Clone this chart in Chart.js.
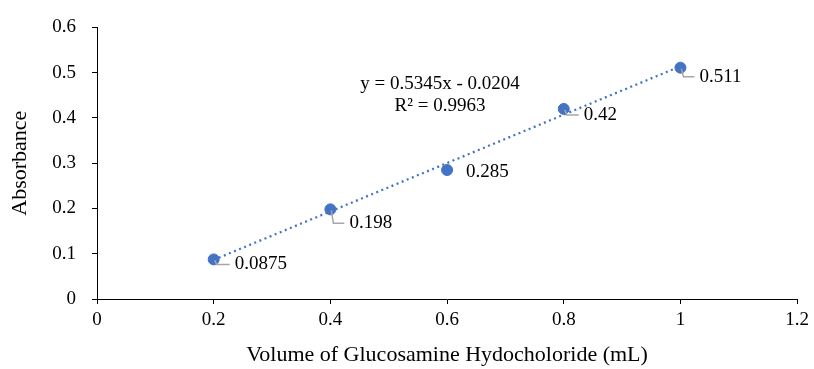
<!DOCTYPE html>
<html>
<head>
<meta charset="utf-8">
<script src="https://cdn.jsdelivr.net/npm/chart.js@4"></script>
<style>
  html, body { margin: 0; padding: 0; background: #fff; }
  #wrap { width: 814px; height: 369px; }
</style>
</head>
<body>
<div id="wrap"><canvas id="chart"></canvas></div>
<script>
// Calibration data
const volumes = [0.2, 0.4, 0.6, 0.8, 1.0];
const absorbance = [0.0875, 0.198, 0.285, 0.42, 0.511];

// Linear fit as reported on the chart
const slope = 0.5345;
const intercept = -0.0204;
const r2 = 0.9963;
const fitRange = [0.2, 1.0];

const xTicks = [0, 0.2, 0.4, 0.6, 0.8, 1, 1.2];
const yTicks = [0, 0.1, 0.2, 0.3, 0.4, 0.5, 0.6];

const blue = '#4472C4';
const serif = '"Liberation Serif", "Times New Roman", serif';

// where each value label sits relative to its point (px)
const labelOffsets = [[21, 5], [19, 14], [19, 2], [20, 6], [19, 9]];

const labelPlugin = {
    id: 'valueLabels',
    afterDatasetsDraw(chart) {
        const ctx = chart.ctx;
        const meta = chart.getDatasetMeta(1);
        ctx.save();
        ctx.font = '19px ' + serif;
        ctx.textBaseline = 'middle';
        ctx.textAlign = 'left';
        meta.data.forEach((pt, i) => {
            const [dx, dy] = labelOffsets[i];
            const lx = pt.x + dx, ly = pt.y + dy;
            // leader line, skipped when label is close to the marker
            if (dy > 3) {
                ctx.strokeStyle = '#a6a6a6';
                ctx.lineWidth = 1.5;
                ctx.beginPath();
                ctx.moveTo(pt.x + 1, pt.y + 1);
                ctx.lineTo(pt.x + 3, ly);
                ctx.lineTo(lx - 5, ly);
                ctx.stroke();
            }
            ctx.fillStyle = '#000';
            ctx.fillText(String(absorbance[i]), lx, ly);
        });

        // trendline equation
        const a = chart.chartArea;
        ctx.textAlign = 'center';
        ctx.fillText('y = ' + slope + 'x - ' + Math.abs(intercept).toFixed(4), a.left + 343, 84);
        ctx.fillText('R\u00B2 = ' + r2, a.left + 343, 106);
        ctx.restore();
    }
};

new Chart(document.getElementById('chart'), {
    type: 'scatter',
    data: {
        datasets: [{
            type: 'line',
            data: fitRange.map(x => ({ x: x, y: slope * x + intercept })),
            borderColor: blue,
            borderWidth: 2.25,
            borderDash: [2, 3.5],
            pointRadius: 0,
            fill: false
        }, {
            data: volumes.map((x, i) => ({ x: x, y: absorbance[i] })),
            backgroundColor: blue,
            borderColor: blue,
            pointRadius: 5.5,
            pointHoverRadius: 5.5
        }]
    },
    options: {
        responsive: true,
        maintainAspectRatio: false,
        animation: false,
        events: [],
        layout: { padding: { top: 27, right: 15, left: 0, bottom: 1 } },
        plugins: {
            legend: { display: false },
            tooltip: { enabled: false }
        },
        scales: {
            x: {
                type: 'linear',
                min: 0,
                max: 1.2,
                afterBuildTicks: s => { s.ticks = xTicks.map(v => ({ value: v })); },
                afterFit: s => { s.height = 69; },
                grid: { display: true, drawOnChartArea: false, drawTicks: true, tickLength: 5, color: '#000' },
                border: { color: '#000', width: 1 },
                ticks: { color: '#000', font: { family: serif, size: 19 }, padding: 5, maxRotation: 0,
                    callback: v => String(v) },
                title: { display: true, text: 'Volume of Glucosamine Hydocholoride (mL)', color: '#000',
                    font: { family: serif, size: 22 }, padding: { top: 6, bottom: 0 } }
            },
            y: {
                min: 0,
                max: 0.6,
                afterBuildTicks: s => { s.ticks = yTicks.map(v => ({ value: v })); },
                afterFit: s => { s.width = 97; },
                grid: { display: true, drawOnChartArea: false, drawTicks: true, tickLength: 5, color: '#000' },
                border: { color: '#000', width: 1 },
                ticks: { color: '#000', font: { family: serif, size: 19 }, padding: 16,
                    callback: v => String(v) },
                title: { display: true, text: 'Absorbance', color: '#000',
                    font: { family: serif, size: 22 }, padding: { top: 7, bottom: 0 } }
            }
        }
    },
    plugins: [labelPlugin]
});
</script>
</body>
</html>
